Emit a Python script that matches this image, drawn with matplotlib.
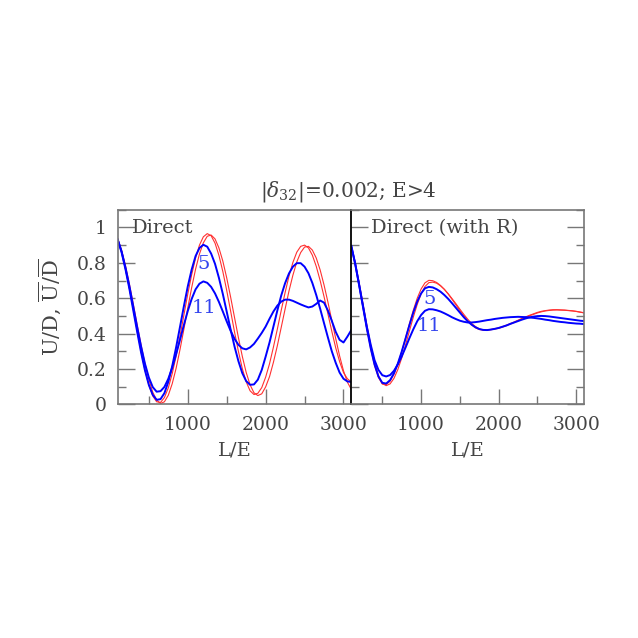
import matplotlib
matplotlib.use("Agg")
import matplotlib.pyplot as plt
from matplotlib.ticker import MultipleLocator

plt.rcParams['font.family'] = ['DejaVu Serif']
plt.rcParams['mathtext.fontset'] = 'dejavuserif'

txt_col = '#444444'
spine_col = '#777777'

# L/E sampling used for every curve
le = [100, 150, 200, 250, 300, 350, 400, 450, 500, 550,
      600, 650, 700, 750, 800, 850, 900, 950, 1000, 1050,
      1100, 1150, 1200, 1250, 1300, 1350, 1400, 1450, 1500, 1550,
      1600, 1650, 1700, 1750, 1800, 1850, 1900, 1950, 2000, 2050,
      2100, 2150, 2200, 2250, 2300, 2350, 2400, 2450, 2500, 2550,
      2600, 2650, 2700, 2750, 2800, 2850, 2900, 2950, 3000, 3050, 3100]

# left panel: "Direct"
direct_red_a = [0.936, 0.863, 0.766, 0.657, 0.537, 0.415, 0.298, 0.194, 0.110, 0.048,
                0.015, 0.011, 0.039, 0.094, 0.174, 0.273, 0.386, 0.505, 0.624, 0.733,
                0.827, 0.900, 0.947, 0.965, 0.953, 0.911, 0.842, 0.751, 0.644, 0.528,
                0.410, 0.300, 0.203, 0.128, 0.077, 0.056, 0.063, 0.095, 0.154, 0.230,
                0.324, 0.425, 0.531, 0.632, 0.725, 0.802, 0.860, 0.893, 0.900, 0.884,
                0.843, 0.780, 0.700, 0.609, 0.511, 0.413, 0.320, 0.242, 0.180, 0.145, 0.127]
direct_red_b = [0.935, 0.871, 0.783, 0.681, 0.567, 0.450, 0.336, 0.230, 0.141, 0.069,
                0.025, 0.005, 0.015, 0.052, 0.117, 0.204, 0.310, 0.425, 0.545, 0.660,
                0.764, 0.850, 0.913, 0.950, 0.957, 0.935, 0.884, 0.810, 0.715, 0.607,
                0.492, 0.378, 0.272, 0.181, 0.111, 0.066, 0.050, 0.060, 0.099, 0.157,
                0.238, 0.331, 0.435, 0.539, 0.641, 0.730, 0.805, 0.858, 0.889, 0.893,
                0.872, 0.827, 0.760, 0.675, 0.578, 0.474, 0.372, 0.274, 0.190, 0.126, 0.085]
direct_blue_5 = [0.929, 0.859, 0.763, 0.653, 0.531, 0.410, 0.294, 0.192, 0.110, 0.054,
                 0.026, 0.030, 0.064, 0.128, 0.216, 0.322, 0.438, 0.555, 0.667, 0.762,
                 0.838, 0.884, 0.902, 0.891, 0.852, 0.794, 0.715, 0.624, 0.524, 0.424,
                 0.328, 0.245, 0.177, 0.132, 0.111, 0.113, 0.140, 0.195, 0.270, 0.350,
                 0.440, 0.530, 0.615, 0.685, 0.740, 0.778, 0.798, 0.798, 0.778, 0.741,
                 0.686, 0.618, 0.541, 0.459, 0.378, 0.300, 0.235, 0.180, 0.145, 0.130, 0.127]
direct_blue_11 = [0.932, 0.864, 0.773, 0.668, 0.553, 0.437, 0.328, 0.230, 0.152, 0.098,
                  0.072, 0.075, 0.099, 0.145, 0.207, 0.283, 0.365, 0.449, 0.528, 0.596,
                  0.650, 0.682, 0.695, 0.687, 0.664, 0.627, 0.579, 0.525, 0.469, 0.416,
                  0.371, 0.337, 0.317, 0.311, 0.322, 0.342, 0.372, 0.404, 0.440, 0.484,
                  0.525, 0.558, 0.581, 0.592, 0.592, 0.585, 0.575, 0.565, 0.556, 0.548,
                  0.553, 0.568, 0.587, 0.575, 0.530, 0.472, 0.410, 0.365, 0.350, 0.383, 0.420]

# right panel: "Direct (with R)"
withr_red_a = [0.893, 0.794, 0.676, 0.552, 0.428, 0.315, 0.220, 0.152, 0.115, 0.112,
               0.131, 0.171, 0.229, 0.299, 0.377, 0.457, 0.533, 0.600, 0.652, 0.687,
               0.701, 0.699, 0.689, 0.672, 0.650, 0.623, 0.593, 0.562, 0.530, 0.500,
               0.473, 0.450, 0.433, 0.423, 0.420, 0.420, 0.424, 0.428, 0.433, 0.440,
               0.448, 0.457, 0.466, 0.476, 0.486, 0.495, 0.504, 0.512, 0.520, 0.526,
               0.530, 0.533, 0.535, 0.535, 0.534, 0.533, 0.531, 0.529, 0.526, 0.522, 0.518]
withr_red_b = [0.895, 0.802, 0.690, 0.571, 0.450, 0.337, 0.240, 0.164, 0.118, 0.106,
               0.116, 0.147, 0.197, 0.262, 0.337, 0.416, 0.494, 0.565, 0.624, 0.666,
               0.688, 0.691, 0.685, 0.670, 0.650, 0.625, 0.597, 0.568, 0.538, 0.509,
               0.482, 0.458, 0.440, 0.427, 0.421, 0.420, 0.422, 0.426, 0.430, 0.437,
               0.445, 0.454, 0.463, 0.473, 0.483, 0.492, 0.501, 0.509, 0.517, 0.523,
               0.528, 0.531, 0.533, 0.534, 0.533, 0.532, 0.530, 0.528, 0.525, 0.521, 0.517]
withr_blue_5 = [0.895, 0.795, 0.676, 0.553, 0.430, 0.318, 0.225, 0.158, 0.122, 0.118,
                0.137, 0.176, 0.231, 0.298, 0.373, 0.449, 0.520, 0.581, 0.627, 0.656,
                0.664, 0.661, 0.651, 0.637, 0.618, 0.596, 0.571, 0.545, 0.519, 0.493,
                0.470, 0.451, 0.436, 0.426, 0.421, 0.420, 0.423, 0.427, 0.432, 0.439,
                0.446, 0.455, 0.463, 0.471, 0.479, 0.486, 0.492, 0.496, 0.499, 0.500,
                0.499, 0.497, 0.494, 0.491, 0.488, 0.485, 0.482, 0.479, 0.476, 0.473, 0.471]
withr_blue_11 = [0.895, 0.796, 0.680, 0.560, 0.440, 0.338, 0.250, 0.195, 0.165, 0.158,
                 0.166, 0.190, 0.226, 0.271, 0.322, 0.375, 0.425, 0.470, 0.505, 0.529,
                 0.538, 0.537, 0.532, 0.525, 0.515, 0.504, 0.492, 0.482, 0.473, 0.467,
                 0.463, 0.463, 0.465, 0.468, 0.472, 0.476, 0.479, 0.483, 0.486, 0.489,
                 0.491, 0.493, 0.494, 0.495, 0.494, 0.493, 0.491, 0.489, 0.486, 0.483,
                 0.479, 0.476, 0.472, 0.469, 0.466, 0.464, 0.461, 0.459, 0.457, 0.456, 0.454]

fig = plt.figure(figsize=(6.38, 6.38), dpi=100)
ax1 = fig.add_axes([0.1845, 0.3661, 0.3661, 0.3052])
ax2 = fig.add_axes([0.5506, 0.3661, 0.3648, 0.3052])

panels = [
    (ax1, direct_red_a, direct_red_b, direct_blue_5, direct_blue_11, "Direct",
     0.061, (1200, 0.795), (1205, 0.542)),
    (ax2, withr_red_a, withr_red_b, withr_blue_5, withr_blue_11, "Direct (with R)",
     0.086, (1105, 0.597), (1100, 0.443)),
]

for ax, ra, rb, b5, b11, name, xname, pos5, pos11 in panels:
    ax.plot(le, ra, color='#ff3030', lw=0.8)
    ax.plot(le, rb, color='#ff3030', lw=0.8)
    ax.plot(le, b5, color='#0000ff', lw=1.4)
    ax.plot(le, b11, color='#0000ff', lw=1.4)
    ax.set_xlim(100, 3100)
    ax.set_ylim(0, 1.1)
    ax.xaxis.set_major_locator(MultipleLocator(1000))
    ax.xaxis.set_minor_locator(MultipleLocator(500))
    ax.yaxis.set_major_locator(MultipleLocator(0.2))
    ax.yaxis.set_minor_locator(MultipleLocator(0.1))
    ax.tick_params(which='both', direction='in', colors=spine_col, labelcolor=txt_col,
                   labelsize=13.5, top=False, pad=8)
    ax.tick_params(which='major', length=12, width=1.0)
    ax.tick_params(which='minor', length=6, width=1.0)
    ax.tick_params(axis='x', which='major', length=11)
    for s in ax.spines.values():
        s.set_color(spine_col)
        s.set_linewidth(1.2)
    ax.text(xname, 0.908, name, transform=ax.transAxes,
            fontsize=14, color=txt_col, va='center', ha='left')
    ax.text(pos5[0], pos5[1], "5", color='#3344ee', fontsize=14, ha='center', va='center')
    ax.text(pos11[0], pos11[1], "11", color='#3344ee', fontsize=14, ha='center', va='center')
    ax.set_xlabel("L/E", fontsize=14, color=txt_col, labelpad=6)

ax1.set_xticks([1000, 2000, 3000])
ax2.set_xticks([1000, 2000, 3000])
ax1.set_yticks([0, 0.2, 0.4, 0.6, 0.8, 1.0])
ax1.set_yticklabels(["0", "0.2", "0.4", "0.6", "0.8", "1"])
ax1.tick_params(which='both', right=False)
ax2.tick_params(which='both', left=True, right=True, labelleft=False)
ax2.spines['left'].set_color('black')
ax2.spines['left'].set_linewidth(1.3)
ax1.spines['right'].set_visible(False)

ax1.set_ylabel(r"U/D, $\overline{\mathrm{U}}/\overline{\mathrm{D}}$", fontsize=15,
               color=txt_col, labelpad=10)

fig.text(0.546, 0.700, r"$|\delta_{32}|$=0.002; E>4", fontsize=14.5, color=txt_col,
         ha='center', va='center')

fig.savefig("out.png", dpi=100)
